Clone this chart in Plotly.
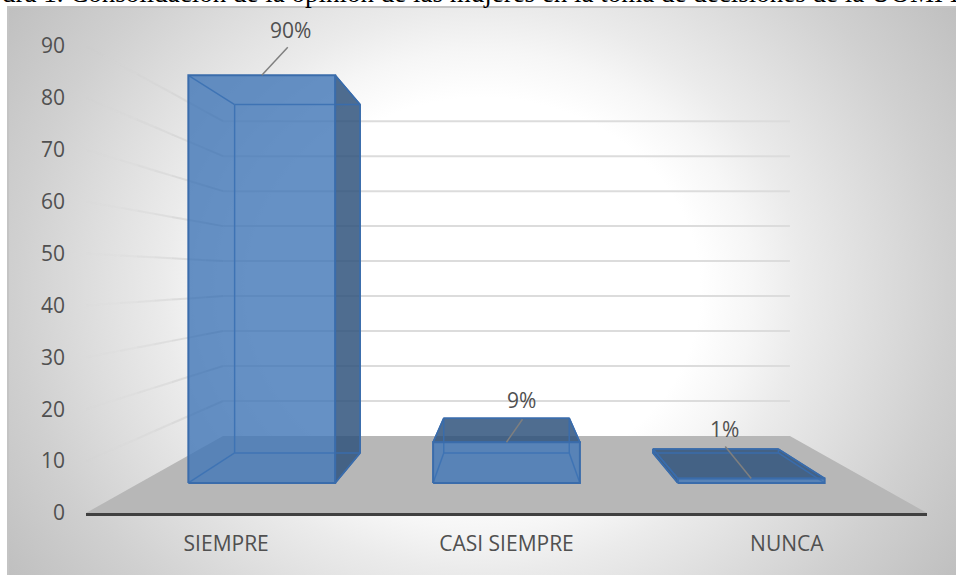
import plotly.graph_objects as go

categories = ['SIEMPRE', 'CASI SIEMPRE', 'NUNCA']
values = [90, 9, 1]
pct_labels = ['90%', '9%', '1%']
y_ticks = [0, 10, 20, 30, 40, 50, 60, 70, 80, 90]
caption = 'dra 1. Consolidación de la opinión de las mujeres en la toma de decisiones de la UOMI I'

# fake 3d: depth is a scale towards the vanishing point, in axis units
van_x, van_y = 1.5, 45.55
back = 0.674
bar_front, bar_back = 0.873, 0.746
bar_width = 0.6

# leader offsets in pixels from the top of each bar front face
leader_ends = [(26, 28), (16, 23), (-26, 32)]
label_shift = [(29, 45), (15, 42), (-27, 49)]

edge = '#3a6cab'
front_fill = 'rgba(64,118,182,0.80)'
dark_fill = 'rgba(48,84,125,0.85)'


def project(x, v, s):
    return van_x + (x - van_x) * s, van_y + (v - van_y) * s


def face(fig, corners, fill, width=1.5):
    xs = [p[0] for p in corners] + [corners[0][0]]
    ys = [p[1] for p in corners] + [corners[0][1]]
    fig.add_trace(go.Scatter(x=xs, y=ys, mode='lines', fill='toself', fillcolor=fill,
                             line=dict(color=edge, width=width), xaxis='x2', yaxis='y2',
                             hoverinfo='skip', showlegend=False))


def wire(fig, p0, p1, color, width=1.5):
    fig.add_trace(go.Scatter(x=[p0[0], p1[0]], y=[p0[1], p1[1]], mode='lines',
                             line=dict(color=color, width=width), xaxis='x2', yaxis='y2',
                             hoverinfo='skip', showlegend=False))


fig = go.Figure()

# background, the gradient follows the box of this rectangle (pixels here)
cx, cy, rx, ry = 482, 290, 590, 520
fig.add_trace(go.Scatter(x=[cx - rx, cx + rx, cx + rx, cx - rx, cx - rx],
                         y=[cy - ry, cy - ry, cy + ry, cy + ry, cy - ry],
                         mode='none', fill='toself', hoverinfo='skip', showlegend=False,
                         fillgradient=dict(type='radial',
                                           colorscale=[[0, '#ffffff'], [0.37, '#ffffff'], [0.46, '#f6f6f6'],
                                                       [0.54, '#ebebeb'], [0.79, '#d0d0d0'], [1, '#bdbdbd']])))

# floor
floor = [project(0, 0, 1), project(0, 0, back), project(3, 0, back), project(3, 0, 1)]
fig.add_trace(go.Scatter(x=[p[0] for p in floor], y=[p[1] for p in floor], mode='none', fill='toself',
                         fillcolor='#b7b7b7', xaxis='x2', yaxis='y2', hoverinfo='skip', showlegend=False))

# walls
for v in y_ticks[1:]:
    wire(fig, project(0, v, back), project(3, v, back), '#dcdcdc', 2)
    steps = 8
    for i in range(steps):
        s0 = 1 - (1 - back) * i / steps
        s1 = 1 - (1 - back) * (i + 1) / steps
        alpha = ((i + 1) / steps) ** 1.5
        wire(fig, project(0, v, s0), project(0, v, s1), 'rgba(210,210,210,%.2f)' % alpha, 2)

# bars
for i, v in enumerate(values):
    x0 = i + 0.5 - bar_width / 2
    x1 = i + 0.5 + bar_width / 2
    base_f = project(x0, 0, bar_front), project(x1, 0, bar_front)
    top_f = project(x0, v, bar_front), project(x1, v, bar_front)
    base_b = project(x0, 0, bar_back), project(x1, 0, bar_back)
    top_b = project(x0, v, bar_back), project(x1, v, bar_back)

    # faces turned towards the viewer get the dark fill
    if v < van_y:
        face(fig, [top_f[0], top_f[1], top_b[1], top_b[0]], dark_fill)
    if x1 < van_x:
        face(fig, [base_f[1], top_f[1], top_b[1], base_b[1]], dark_fill)
    if x0 > van_x:
        face(fig, [base_f[0], top_f[0], top_b[0], base_b[0]], dark_fill)

    # hidden edges seen through the glass
    for a, b in [(base_b[0], base_b[1]), (top_b[0], top_b[1]), (base_b[0], top_b[0]), (base_b[1], top_b[1]),
                 (base_f[0], base_b[0]), (base_f[1], base_b[1]), (top_f[0], top_b[0]), (top_f[1], top_b[1])]:
        wire(fig, a, b, edge)
    face(fig, [base_f[0], base_f[1], top_f[1], top_f[0]], front_fill, 2)

    # leader and percent label
    tx, ty = project(i + 0.5, v, bar_front)
    fig.add_shape(type='line', xref='x2', yref='y2', xsizemode='pixel', ysizemode='pixel',
                  xanchor=tx, yanchor=ty, x0=0, y0=0, x1=leader_ends[i][0], y1=leader_ends[i][1],
                  line=dict(color='#7f7f7f', width=1.5))
    fig.add_annotation(x=tx, y=ty, xref='x2', yref='y2', text=pct_labels[i], showarrow=False,
                       xshift=label_shift[i][0], yshift=label_shift[i][1],
                       font=dict(family='Open Sans', size=21, color='#505050'))

# caption of the page above the chart, cut by the top of the window
fig.add_annotation(x=9, xanchor='left', xref='x', xshift=-9, y=10, yref='y', yanchor='bottom',
                   text=caption, showarrow=False,
                   font=dict(family='Liberation Serif', size=27, color='#000000'))

fig.update_layout(
    width=956, height=575,
    margin=dict(l=0, r=0, t=0, b=0),
    paper_bgcolor='white', plot_bgcolor='rgba(0,0,0,0)',
    showlegend=False,
    xaxis=dict(domain=[9 / 956, 1], range=[9, 956], side='top', showgrid=False, zeroline=False, automargin=False,
               showticklabels=False, ticks='', showline=True, linecolor='#c4c4c4', linewidth=1.5),
    yaxis=dict(domain=[0, 567 / 575], range=[575, 8], showgrid=False, zeroline=False, automargin=False,
               showticklabels=False, ticks='', showline=True, linecolor='#c4c4c4', linewidth=1.5),
    xaxis2=dict(domain=[86 / 956, 927 / 956], range=[0, 3], anchor='y2', showgrid=False, zeroline=False,
                automargin=False, tickvals=[0.5, 1.5, 2.5], ticktext=categories, ticks='', ticklabelstandoff=10,
                showline=True, linecolor='#404040', linewidth=3,
                tickfont=dict(family='Open Sans', size=21, color='#505050')),
    yaxis2=dict(domain=[62 / 575, 529 / 575], range=[0, 90], anchor='x2', showgrid=False, zeroline=False,
                automargin=False, tickvals=y_ticks, ticks='', ticklabelstandoff=20, showline=False,
                tickfont=dict(family='Open Sans', size=21, color='#505050')),
)

# the page margin would push the figure off the window
fig.write_html("out.html", config={'displayModeBar': False}, post_script="document.body.style.margin = '0';")
